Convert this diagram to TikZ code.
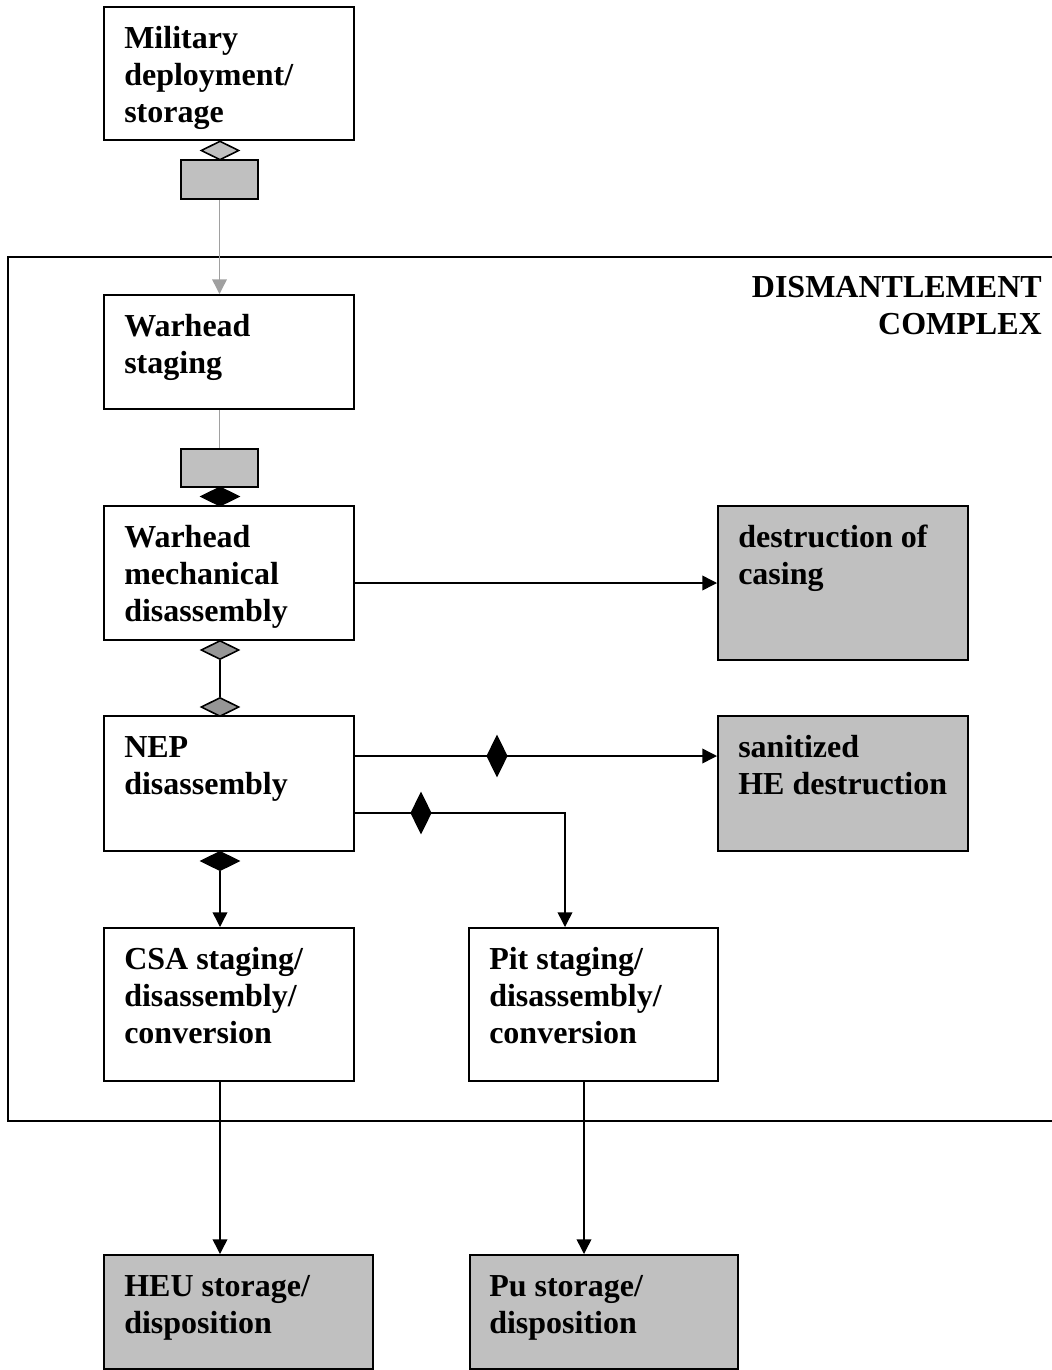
\documentclass[tikz,border=0pt]{standalone}
\usepackage{fontspec}
\setmainfont{Liberation Serif}
\usetikzlibrary{arrows.meta,shapes.geometric,calc}
\definecolor{boxgray}{HTML}{C0C0C0}
\definecolor{dgray}{HTML}{969696}
\definecolor{lgray}{HTML}{A0A0A0}
\newcommand\fl{\rule{0pt}{24pt}}
\newcommand\bx[6]{\node[box,fill=#6,minimum width={0.75*(#4-#2)*1pt},minimum height={0.75*(#5-#3)*1pt}] (#1) at ({(#2+#4)/2},{(#3+#5)/2}) {};}
\newcommand\dm[6]{\node[dia,fill=#6,minimum width={0.75*#4*1pt},minimum height={0.75*#5*1pt}] (#1) at (#2,#3) {};}
\begin{document}
\begin{tikzpicture}[x=0.75pt,y=-0.75pt,
  box/.style={draw,rectangle,line width=1.5pt,inner sep=0pt},
  txt/.style={anchor=north west,inner sep=0pt,align=left,font=\fontsize{24pt}{27.75pt}\selectfont\bfseries},
  dia/.style={draw,diamond,line width=1.2pt,inner sep=0pt},
  conn/.style={line width=1.1pt,black},
  arr/.style={conn,-{Triangle[length=11pt,width=11pt]}},
  garr/.style={line width=1.1pt,lgray,-{Triangle[length=11pt,width=11pt]}}]
\useasboundingbox (0,0) rectangle (1052,1370);
% dismantlement complex frame
\draw[line width=1.5pt] (1070,257) -- (8,257) -- (8,1121) -- (1070,1121);
\node[txt,anchor=north east,align=right] (title) at (1042,265) {\fl DISMANTLEMENT\\COMPLEX};
% boxes
\bx{mil}{104}{7}{354}{140}{white}
\bx{g1}{181}{160}{258}{199}{boxgray}
\bx{ws}{104}{295}{354}{409}{white}
\bx{g2}{181}{449}{258}{487}{boxgray}
\bx{wm}{104}{506}{354}{640}{white}
\bx{dc}{718}{506}{968}{660}{boxgray}
\bx{nep}{104}{716}{354}{851}{white}
\bx{san}{718}{716}{968}{851}{boxgray}
\bx{csa}{104}{928}{354}{1081}{white}
\bx{pit}{469}{928}{718}{1081}{white}
\bx{heu}{104}{1255}{373}{1369}{boxgray}
\bx{pu}{470}{1255}{738}{1369}{boxgray}
% texts
\node[txt] (milT) at ([shift={(21,10)}]mil.north west) {\fl Military\\deployment/\\storage};
\node[txt] (wsT) at ([shift={(21,10)}]ws.north west) {\fl Warhead\\staging};
\node[txt] (wmT) at ([shift={(21,10)}]wm.north west) {\fl Warhead\\mechanical\\disassembly};
\node[txt] (dcT) at ([shift={(21,10)}]dc.north west) {\fl destruction of\\casing};
\node[txt] (nepT) at ([shift={(21,10)}]nep.north west) {\fl NEP\\disassembly};
\node[txt] (sanT) at ([shift={(21,10)}]san.north west) {\fl sanitized\\HE destruction};
\node[txt] (csaT) at ([shift={(21,10)}]csa.north west) {\fl CSA staging/\\disassembly/\\conversion};
\node[txt] (pitT) at ([shift={(21,10)}]pit.north west) {\fl Pit staging/\\disassembly/\\conversion};
\node[txt] (heuT) at ([shift={(21,10)}]heu.north west) {\fl HEU storage/\\disposition};
\node[txt] (puT) at ([shift={(20,10)}]pu.north west) {\fl Pu storage/\\disposition};
% diamonds
\dm{d1}{220}{150.5}{38}{19}{boxgray}
\dm{d2}{220}{496.5}{38}{19}{black}
\dm{d3}{220}{650}{38}{19}{dgray}
\dm{d4}{220}{707}{38}{19}{dgray}
\dm{d5}{497}{756}{20}{40}{black}
\dm{d6}{421}{813}{20}{40}{black}
\dm{d7}{220}{861}{38}{19}{black}
\coordinate (cx) at (220,0);
\coordinate (pitx) at (565,0);
\coordinate (pux) at (584,0);
% connectors
\draw[garr] (g1.south) -- (g1.south |- ws.north);
\draw[line width=1.1pt,lgray] (g2.north |- ws.south) -- (g2.north);
\draw[arr] (dc.west -| wm.east) -- (dc.west);
\draw[conn] (d3.south) -- (d4.north);
\draw[arr] (nep.east |- d5.center) -- (d5.west) -- (d5.east) -- (san.west |- d5.center);
\draw[arr] (nep.east |- d6.center) -- (d6.west) -- (d6.east) -- (pitx |- d6.center) -- (pit.north -| pitx);
\draw[arr] (d7.south) -- (d7.south |- csa.north);
\draw[arr] (csa.south -| cx) -- (heu.north -| cx);
\draw[arr] (pit.south -| pux) -- (pu.north -| pux);
\end{tikzpicture}
\end{document}
